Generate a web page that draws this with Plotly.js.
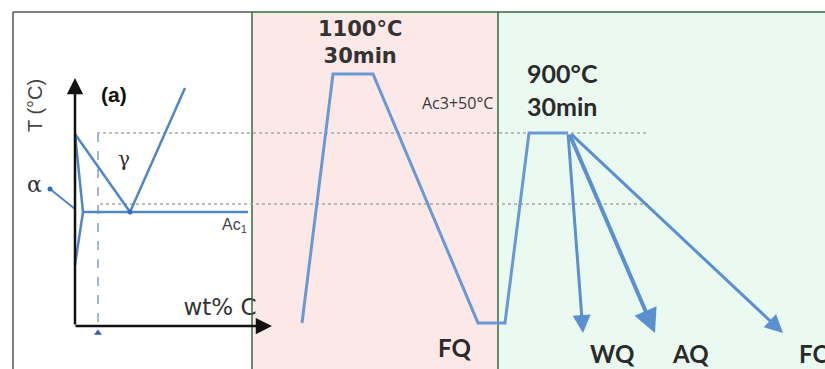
<!DOCTYPE html>
<html><head><meta charset="utf-8">
<script src="https://cdn.plot.ly/plotly-3.0.1.min.js"></script>
<style>html,body{margin:0;padding:0;background:#fff}#chart{width:825px;height:369px}</style>
</head><body><div id="chart"></div>
<script>
// ---- data (schematic values, in pixel-like units) ----
const panelTop = 12, panelBottom = 369;
const pinkPanelX = [252, 498];
const greenPanelX = [498, 825];

// heat-treatment profile (time-ish x, temperature-ish y, y grows downward)
const profileX = [302, 333, 373, 478, 505, 529, 568];
const profileY = [323, 74, 74, 323, 323, 133, 133];

// cooling routes from 900°C hold
const coolingNames = ['WQ', 'AQ', 'FC'];
const coolingStartX = [568, 569, 570];
const coolingStartY = [133, 133, 133];
const coolingEndX = [583, 655, 783];
const coolingEndY = [333, 333, 333];
const coolingWidth = [3, 4, 3];
const coolingLabelX = [612, 690, 797];
const coolingLabelY = [353, 353, 353];

// isotherms (Ac3+50°C and Ac1)
const isothermY = [133, 204];
const isothermStartX = [97, 100];
const isothermEndX = [648, 648];

// left phase diagram
const a3LineX = [75, 130], a3LineY = [134, 212];
const acmLineX = [130, 185], acmLineY = [212, 88];
const ac1LineX = [83, 248], ac1LineY = [212, 212];
const ferriteX = [75, 83, 75], ferriteY = [134, 212, 265];
const alphaPtrX = [50, 75], alphaPtrY = [189, 209];
const compX = [98, 98], compY = [133, 329];
const axisOrigin = [75, 326], axisYTop = 78, axisXEnd = 272;

// labels
const holdLabels = ['1100°C<br>30min', '900°C<br>30min'];
const holdLabelX = [360, 562];
const holdLabelY = [42, 89];

const blue = '#5a8fd0';
const blueL = '#4f86c6';
const traces = [];
function rect(xs, color) {
  traces.push({x:[xs[0],xs[1],xs[1],xs[0],xs[0]], y:[panelTop,panelTop,panelBottom,panelBottom,panelTop],
    mode:'lines', fill:'toself', fillcolor:color, line:{width:0}, hoverinfo:'skip'});
}
function line(x, y, color, width, dash) {
  traces.push({x:x, y:y, mode:'lines', line:{color:color, width:width, dash:dash||'solid'}, hoverinfo:'skip'});
}
function txt(x, y, t, size, color, family, pos) {
  traces.push({x:[x], y:[y], mode:'text', text:[t], textposition:pos||'middle center',
    textfont:{size:size, color:color, family:family}, hoverinfo:'skip'});
}

rect(pinkPanelX, '#fde8e8');
txt(422, 105, 'Ac3+50°C', 16, '#3a3a3a', 'Open Sans', 'middle right');
rect(greenPanelX, '#ebfaf1');
txt(220, 309, 'wt% C', 23, '#333', 'DejaVu Sans');

// frame
line([13, 13], [panelTop, panelBottom], '#555', 1.5);
line([13, 252], [panelTop, panelTop], '#555', 1.5);
line([252, 825], [panelTop, panelTop], '#2f6b3d', 1.5);
line([pinkPanelX[0], pinkPanelX[0]], [panelTop, panelBottom], '#2f6b3d', 1.5);
line([greenPanelX[0], greenPanelX[0]], [panelTop, panelBottom], '#2f6b3d', 1.5);

// isotherms
for (let i = 0; i < isothermY.length; i++) {
  line([isothermStartX[i], isothermEndX[i]], [isothermY[i], isothermY[i]], '#a8a8a8', 1.5, 'dot');
}

// composition dashed line
line(compX, compY, '#a3b5cf', 2, 'dash');
traces.push({x:[compX[0]], y:[compY[1] + 4], mode:'markers',
  marker:{symbol:'triangle-up', size:7, color:'#2f62b0'}, hoverinfo:'skip'});

// phase diagram lines
line(a3LineX, a3LineY, blueL, 2.5);
line(acmLineX, acmLineY, blueL, 2.5);
line(ac1LineX, ac1LineY, blueL, 2.5);
line(ferriteX, ferriteY, blueL, 2.5);
line(alphaPtrX, alphaPtrY, blueL, 2);
traces.push({x:[alphaPtrX[0], a3LineX[1]], y:[alphaPtrY[0], a3LineY[1]], mode:'markers',
  marker:{size:5, color:'#2f6fc0'}, hoverinfo:'skip'});

// profile
line(profileX, profileY, '#6a98d4', 3);

const annotations = [];
// axes arrows
annotations.push({x:axisOrigin[0], y:axisYTop, ax:axisOrigin[0], ay:axisOrigin[1], xref:'x', yref:'y',
  axref:'x', ayref:'y', text:'', showarrow:true, arrowhead:2, arrowsize:1.3, arrowwidth:2.5, arrowcolor:'#111'});
annotations.push({x:axisXEnd, y:axisOrigin[1], ax:axisOrigin[0] - 1, ay:axisOrigin[1], xref:'x', yref:'y',
  axref:'x', ayref:'y', text:'', showarrow:true, arrowhead:2, arrowsize:1.3, arrowwidth:2.5, arrowcolor:'#111'});
// cooling arrows
for (let i = 0; i < coolingNames.length; i++) {
  annotations.push({x:coolingEndX[i], y:coolingEndY[i], ax:coolingStartX[i], ay:coolingStartY[i],
    xref:'x', yref:'y', axref:'x', ayref:'y', text:'', showarrow:true, arrowhead:2,
    arrowsize:1.2, arrowwidth:coolingWidth[i], arrowcolor:blue});
  annotations.push({x:coolingLabelX[i], y:coolingLabelY[i], xref:'x', yref:'y', text:'<b>'+coolingNames[i]+'</b>',
    showarrow:false, xanchor: i === 2 ? 'left' : 'center', font:{family:'Lato', size:24, color:'#2a2a2a'}});
}
annotations.push({x:454, y:347, xref:'x', yref:'y', text:'<b>FQ</b>', showarrow:false,
  font:{family:'Lato', size:24, color:'#2a2a2a'}});
// hold labels
annotations.push({x:holdLabelX[0], y:holdLabelY[0], xref:'x', yref:'y', text:'<b>'+holdLabels[0]+'</b>', showarrow:false,
  font:{family:'DejaVu Sans', size:21, color:'#333'}});
annotations.push({x:holdLabelX[1], y:holdLabelY[1], xref:'x', yref:'y', text:'<b>'+holdLabels[1]+'</b>', showarrow:false,
  font:{family:'Lato', size:25, color:'#2a2a2a'}});
// phase labels
annotations.push({x:35, y:106, xref:'x', yref:'y', text:'T (°C)', textangle:-90, showarrow:false,
  font:{family:'Liberation Sans', size:20, color:'#444'}});
annotations.push({x:114, y:94, xref:'x', yref:'y', text:'<b>(a)</b>', showarrow:false,
  font:{family:'Liberation Sans', size:21, color:'#111'}});
annotations.push({x:124, y:159, xref:'x', yref:'y', text:'γ', showarrow:false,
  font:{family:'DejaVu Serif', size:20, color:'#333'}});
annotations.push({x:34, y:184, xref:'x', yref:'y', text:'α', showarrow:false,
  font:{family:'DejaVu Serif', size:22, color:'#333'}});
annotations.push({x:234, y:225, xref:'x', yref:'y', text:'Ac<sub>1</sub>', showarrow:false,
  font:{family:'Liberation Sans', size:16, color:'#444'}});

const layout = {
  width:825, height:369, margin:{l:0, r:0, t:0, b:0}, autosize:false,
  paper_bgcolor:'#fff', plot_bgcolor:'#fff', showlegend:false,
  xaxis:{range:[0,825], visible:false, fixedrange:true},
  yaxis:{range:[369,0], visible:false, fixedrange:true},
  annotations:annotations
};
Plotly.newPlot('chart', traces, layout, {staticPlot:true, displayModeBar:false});
</script></body></html>
